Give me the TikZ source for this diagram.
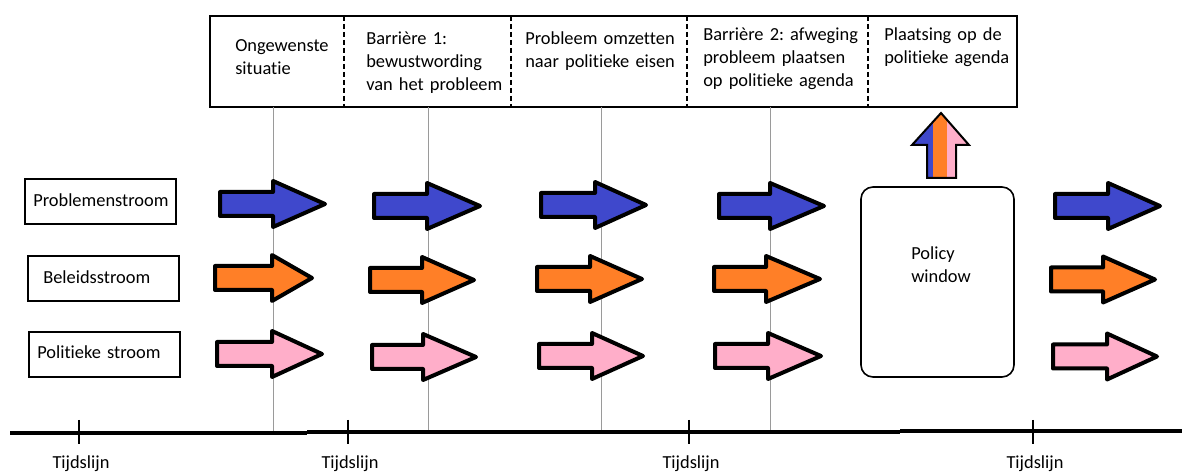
\documentclass[tikz,border=0pt]{standalone}
\usepackage{fontspec}
\setmainfont{Carlito}[Ligatures={NoCommon}]
\frenchspacing
\definecolor{sblue}{HTML}{3F48CC}
\definecolor{sorange}{HTML}{FF7F27}
\definecolor{spink}{HTML}{FFAEC9}
\definecolor{vgray}{HTML}{9A9A9A}
\tikzset{
  lbl/.style={anchor=base west, inner sep=0pt, text width=160pt, align=left,
              font=\fontsize{13.8}{17.25}\selectfont},
  tlbl/.style={anchor=base, inner sep=0pt, font=\fontsize{13.8}{17.25}\selectfont},
  streambox/.style={draw, line width=1.2pt},
  arrowline/.style={draw=black, line width=3pt, line join=round},
  vline/.style={draw=vgray, line width=0.75pt},
}
% color, tail, head base, tip, centre y
\newcommand\streamarrow[5]{%
  \draw[arrowline, fill=#1] (#2+2,#5-12) -- (#3+2,#5-12) -- (#3+2,#5-23)
    -- (#4-3,#5) -- (#3+2,#5+23) -- (#3+2,#5+12) -- (#2+2,#5+12) -- cycle;}
\begin{document}
\begin{tikzpicture}[x=0.75pt,y=-0.75pt]
\useasboundingbox (0,0) rectangle (1182,473);

% top box
\coordinate (tbnw) at (210,16);
\coordinate (tbse) at (1017,107);
\draw[line width=1.5pt] (tbnw) rectangle (tbse);
\foreach \x/\n in {344/a,511/b,687/c,868/d}{
  \coordinate (dt\n) at (\x,16);
  \coordinate (db\n) at (\x,107);
  \draw[line width=1.5pt, dash pattern=on 3.75pt off 2.25pt] (dt\n) -- (db\n);
}
\node[lbl] (t1) at (235,51.5) {Ongewenste\\situatie};
\node[lbl] (t2) at (366,45) {Barrière 1:\\bewustwording\\van het probleem};
\node[lbl] (t3) at (525,45) {Probleem omzetten\\naar politieke eisen};
\node[lbl] (t4) at (703,41) {Barrière 2: afweging\\probleem plaatsen\\op politieke agenda};
\node[lbl] (t5) at (884,41) {Plaatsing op de\\politieke agenda};

% vertical gray lines
\foreach \x/\n in {273/a,428/b,601/c,770/d}{
  \coordinate (vt\n) at (\x,107);
  \coordinate (vb\n) at (\x,432);
  \draw[vline] (vt\n) -- (vb\n);
}

% timeline
\coordinate (tl0) at (10,433);
\coordinate (tl1) at (307,433);
\coordinate (tl2) at (307,432);
\coordinate (tl3) at (900,432);
\coordinate (tl4) at (900,431);
\coordinate (tl5) at (1182,431);
\draw[line width=2.4pt] (tl0) -- (tl1);
\draw[line width=2.4pt] (tl2) -- (tl3);
\draw[line width=2.4pt] (tl4) -- (tl5);
\foreach \x/\n in {79/a,348/b,689/c,1033/d}{
  \coordinate (kt\n) at (\x,420);
  \coordinate (kb\n) at (\x,444);
  \draw[line width=2pt] (kt\n) -- (kb\n);
  \node[tlbl] (tij\n) at (\x+2,469) {Tijdslijn};
}

% stream boxes
\draw[streambox] (25,179) rectangle (176,224);
\node[lbl] (s1) at (33,207) {Problemenstroom};
\draw[streambox] (28,256) rectangle (179,301);
\node[lbl] (s2) at (43,284) {Beleidsstroom};
\draw[streambox] (29,332) rectangle (180,377);
\node[lbl] (s3) at (37,359) {Politieke stroom};

% arrows
\streamarrow{sblue}{218}{271}{328}{204}
\streamarrow{sorange}{213}{270}{315}{278}
\streamarrow{spink}{215}{270}{325}{354}

\streamarrow{sblue}{372}{425}{483}{206}
\streamarrow{sorange}{368}{420}{477}{280}
\streamarrow{spink}{370}{421}{479}{357}

\streamarrow{sblue}{539}{593}{649}{205}
\streamarrow{sorange}{535}{588}{645}{279}
\streamarrow{spink}{537}{590}{646}{356}

\streamarrow{sblue}{717}{768}{827}{206}
\streamarrow{sorange}{712}{764}{823}{279}
\streamarrow{spink}{713}{766}{824}{356}

\streamarrow{sblue}{1053}{1106}{1163}{206}
\streamarrow{sorange}{1049}{1101}{1158}{279.5}
\streamarrow{spink}{1051}{1105}{1160}{356.5}

% policy window
\draw[line width=1.2pt, rounded corners=9pt] (861,187) rectangle (1014,377);
\node[lbl] (pw) at (911,260) {Policy\\window};

% up arrow
\begin{scope}
  \clip (927,178) -- (927,145) -- (912,145) -- (941,113) -- (969,145) -- (956,145) -- (956,178) -- cycle;
  \fill[sblue] (905,105) rectangle (933,185);
  \fill[sorange] (933,105) rectangle (947,185);
  \fill[spink] (947,105) rectangle (975,185);
\end{scope}
\draw[line width=1.5pt, line join=miter] (927,178) -- (927,145) -- (912,145) -- (941,113) -- (969,145) -- (956,145) -- (956,178) -- cycle;
\end{tikzpicture}
\end{document}
